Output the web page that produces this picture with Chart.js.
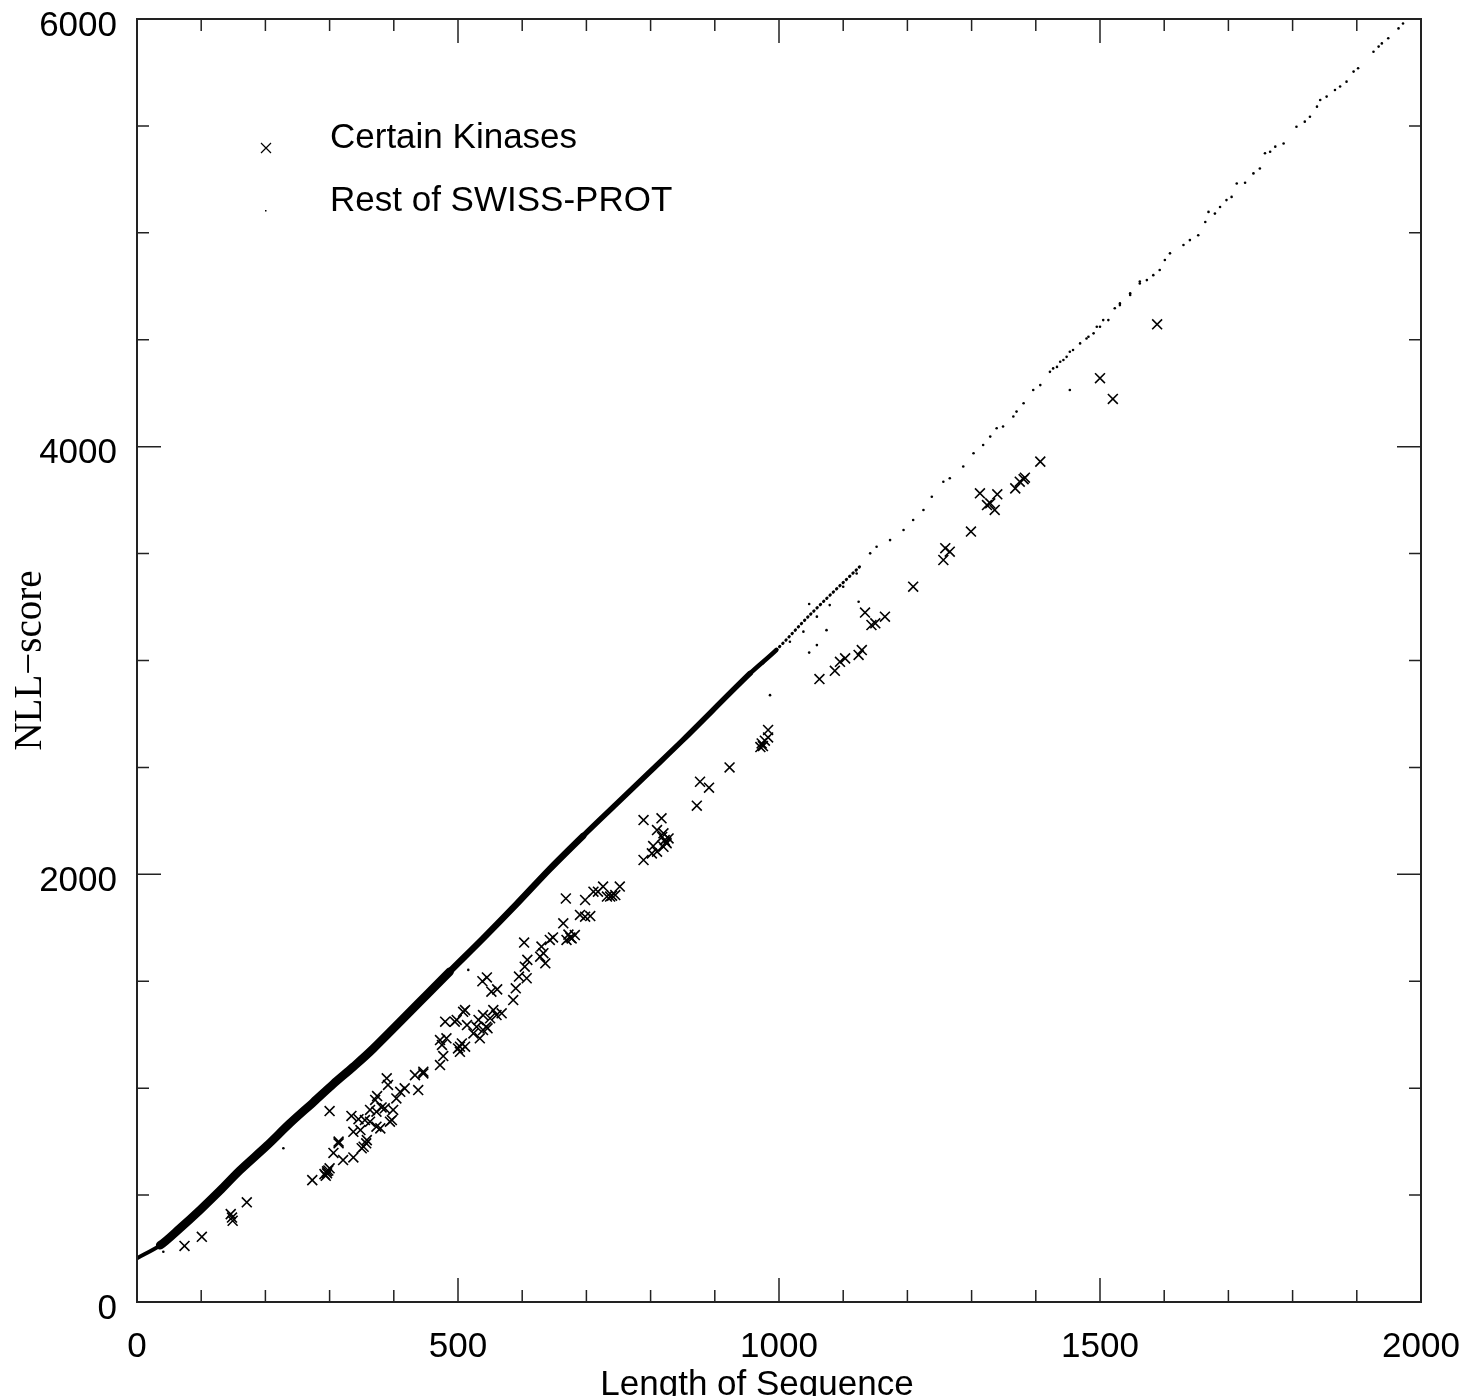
<!DOCTYPE html>
<html>
<head>
<meta charset="utf-8">
<title>NLL-score vs Length of Sequence</title>
<script src="https://cdn.jsdelivr.net/npm/chart.js@4.4.0/dist/chart.umd.min.js"></script>
<style>
  html, body { margin: 0; padding: 0; background: #fff; }
  #wrap { width: 1465px; height: 1396px; }
</style>
</head>
<body>
<div id="wrap"><canvas id="chart" width="1465" height="1396"></canvas></div>
<script>
const seriesNames = ['Certain Kinases', 'Rest of SWISS-PROT'];
const xTitle = 'Length of Sequence';
const yTitle = 'NLL−score';
const xTickLabels = [0, 500, 1000, 1500, 2000];
const yTickLabels = [0, 2000, 4000, 6000];

// [length, score]
const kinases = [
  [74, 262], [101, 305], [146, 411], [149, 380], [148, 395], [171, 466],
  [273, 570], [296, 602], [294, 590], [298, 615], [292, 598], [300, 625], [296, 611], [300, 893],
  [306, 697], [314, 742], [314, 750], [321, 664], [337, 676], [334, 870], [345, 855], [337, 796],
  [348, 804], [353, 726], [350, 719], [357, 742], [358, 757], [363, 843], [363, 898], [355, 851],
  [371, 945], [374, 963], [373, 890], [373, 820], [379, 812], [381, 910], [386, 906], [389, 1046],
  [391, 1015], [394, 843], [397, 851], [399, 898], [404, 952], [410, 983], [417, 999],
  [433, 1061], [438, 991], [446, 1069], [446, 1077],
  [472, 1108], [477, 1150], [475, 1202], [472, 1225], [482, 1233], [480, 1311], [503, 1170],
  [500, 1186], [503, 1194], [506, 1209], [511, 1194], [498, 1319], [495, 1311], [508, 1357],
  [511, 1365], [514, 1295], [524, 1256], [529, 1287], [532, 1319], [534, 1233], [539, 1272],
  [544, 1287], [546, 1280], [539, 1342], [550, 1327], [555, 1365], [560, 1342], [568, 1350],
  [545, 1518], [538, 1500], [552, 1451], [561, 1462], [586, 1412], [590, 1467], [603, 1681],
  [595, 1522], [607, 1514], [604, 1568], [608, 1600], [628, 1615], [633, 1631], [636, 1584],
  [630, 1662], [643, 1693], [648, 1705], [664, 1771], [669, 1693], [672, 1718], [675, 1705],
  [677, 1700], [682, 1716], [690, 1810], [698, 1802], [706, 1805], [668, 1887], [698, 1880],
  [711, 1919], [718, 1919], [726, 1943], [732, 1896], [737, 1896], [740, 1900], [745, 1903],
  [752, 1943],
  [789, 2254], [817, 2262], [789, 2067], [802, 2098], [804, 2132], [810, 2207], [820, 2192],
  [822, 2160], [825, 2145], [820, 2129], [810, 2106], [828, 2168], [818, 2175], [824, 2150],
  [872, 2321], [877, 2433], [891, 2405], [923, 2500],
  [971, 2595], [973, 2612], [975, 2600], [978, 2625], [983, 2640], [983, 2675],
  [1063, 2913], [1087, 2952], [1095, 2994], [1103, 3010], [1124, 3026], [1129, 3049],
  [1134, 3224], [1144, 3166], [1150, 3174], [1165, 3205], [1209, 3345], [1256, 3470],
  [1259, 3525], [1266, 3509], [1299, 3603], [1313, 3782], [1324, 3727], [1329, 3735],
  [1336, 3704], [1340, 3777], [1368, 3805], [1375, 3836], [1381, 3848], [1383, 3855],
  [1407, 3930], [1500, 4320], [1520, 4223], [1589, 4572]
];

// centre of the dense part of the SWISS-PROT band
const bandCentre = [
  [0, 205], [36, 265], [67, 345], [98, 430], [129, 520], [160, 615], [202, 730],
  [238, 835], [275, 935], [306, 1020], [337, 1100], [368, 1185], [487, 1545],
  [539, 1700], [591, 1860], [643, 2025], [695, 2180], [747, 2330], [799, 2480],
  [851, 2630], [955, 2940], [996, 3050], [1048, 3213], [1126, 3440]
];

// single SWISS-PROT points where the band thins out, plus strays
const restPoints = [
  [975, 2987], [1017, 3088], [1038, 3135], [1059, 3205], [1079, 3259], [1100, 3345],
  [1121, 3407], [1142, 3501], [1152, 3532], [1173, 3563], [1194, 3610], [1209, 3657],
  [1225, 3704], [1238, 3766], [1256, 3836], [1266, 3852], [1287, 3907], [1303, 3969],
  [1318, 4008], [1329, 4047], [1339, 4086], [1349, 4094], [1365, 4141], [1370, 4164],
  [1381, 4203], [1396, 4265], [1407, 4288], [1422, 4350], [1433, 4373], [1443, 4405],
  [1453, 4444], [1469, 4483], [1479, 4506], [1495, 4561], [1505, 4592], [1523, 4647],
  [1531, 4670], [1547, 4717], [1562, 4772],
  [1427, 4366], [1438, 4397], [1448, 4420], [1458, 4452], [1482, 4514], [1490, 4530],
  [1500, 4561], [1513, 4592], [1531, 4662], [1547, 4709], [1562, 4763], [1573, 4779],
  [1583, 4802], [1593, 4826], [1601, 4873], [1609, 4904], [1630, 4943], [1640, 4966],
  [1653, 4989], [1664, 5051], [1669, 5098], [1679, 5090], [1687, 5121], [1697, 5153],
  [1705, 5168], [1713, 5231], [1726, 5234], [1739, 5278], [1749, 5301], [1757, 5372],
  [1765, 5379], [1773, 5403], [1786, 5418], [1806, 5496], [1819, 5520], [1827, 5543],
  [1838, 5590], [1843, 5621], [1853, 5637], [1866, 5668], [1874, 5684], [1884, 5707],
  [1895, 5754], [1902, 5770], [1926, 5847], [1934, 5871], [1939, 5886], [1949, 5910],
  [1965, 5956], [1972, 5979],
  [41, 235], [228, 719], [516, 1553], [986, 2838], [1047, 3037], [1059, 3072],
  [1074, 3142], [1047, 3264], [1124, 3275], [1453, 4265]
];

const toXY = (pairs) => pairs.map(([x, y]) => ({ x, y }));

function bandWidth(ctx) {
  const len = ctx.p0.parsed.x;
  if (len < 30) return 4;
  if (len < 400) return 8.5;
  if (len < 650) return 6.5;
  if (len < 900) return 5.5;
  if (len < 990) return 4.5;
  return 3;
}

// past ~1000 the band breaks up into a stipple
function bandDash(ctx) {
  return ctx.p0.parsed.x >= 990 ? [0.5, 4] : undefined;
}

const frameTicks = {
  id: 'frameTicks',
  afterDatasetsDraw(chart) {
    const { ctx, chartArea: area, scales: { x, y } } = chart;
    ctx.save();
    ctx.strokeStyle = '#222';
    ctx.lineWidth = 1.5;
    ctx.beginPath();
    x.ticks.forEach((tick) => {
      const px = x.getPixelForValue(tick.value);
      const len = tick.value % 500 === 0 ? 24 : 12;
      ctx.moveTo(px, area.bottom);
      ctx.lineTo(px, area.bottom - len);
      ctx.moveTo(px, area.top);
      ctx.lineTo(px, area.top + len);
    });
    y.ticks.forEach((tick) => {
      const py = y.getPixelForValue(tick.value);
      const len = tick.value % 2000 === 0 ? 24 : 12;
      ctx.moveTo(area.left, py);
      ctx.lineTo(area.left + len, py);
      ctx.moveTo(area.right, py);
      ctx.lineTo(area.right - len, py);
    });
    ctx.stroke();
    ctx.lineWidth = 2;
    ctx.strokeRect(area.left, area.top, area.right - area.left, area.bottom - area.top);
    ctx.restore();
  }
};

const legendBox = {
  id: 'legendBox',
  afterDraw(chart) {
    const { ctx } = chart;
    ctx.save();
    ctx.fillStyle = '#000';
    ctx.strokeStyle = '#000';
    ctx.font = '35px "Liberation Sans", Arial, sans-serif';
    ctx.textBaseline = 'alphabetic';
    ctx.fillText(seriesNames[0], 330, 148);
    ctx.fillText(seriesNames[1], 330, 211);
    // x title sits a little left of the axis centre in the original
    ctx.textAlign = 'center';
    ctx.fillText(xTitle, 757, 1395);
    ctx.lineWidth = 1.2;
    ctx.beginPath();
    ctx.moveTo(261, 143); ctx.lineTo(271, 153);
    ctx.moveTo(271, 143); ctx.lineTo(261, 153);
    ctx.stroke();
    ctx.fillRect(265, 210, 1.5, 1.5);
    ctx.restore();
  }
};

new Chart(document.getElementById('chart'), {
  type: 'scatter',
  data: {
    datasets: [
      {
        label: seriesNames[1],
        data: toXY(bandCentre),
        showLine: true,
        tension: 0.3,
        pointRadius: 0,
        borderColor: '#000',
        borderWidth: 6,
        borderCapStyle: 'round',
        borderJoinStyle: 'round',
        segment: { borderWidth: bandWidth, borderDash: bandDash }
      },
      {
        label: seriesNames[1],
        data: toXY(restPoints),
        pointRadius: 1.3,
        pointBackgroundColor: '#000',
        pointBorderWidth: 0
      },
      {
        label: seriesNames[0],
        data: toXY(kinases),
        pointStyle: 'crossRot',
        pointRadius: 7,
        pointBorderColor: '#000',
        pointBorderWidth: 1.6
      }
    ]
  },
  options: {
    responsive: false,
    animation: false,
    layout: { padding: { top: 19, right: 44, left: 0, bottom: 0 } },
    plugins: {
      legend: { display: false },
      tooltip: { enabled: false }
    },
    scales: {
      x: {
        type: 'linear',
        min: 0,
        max: 2000,
        grid: { display: false },
        border: { display: false },
        ticks: {
          stepSize: 100,
          autoSkip: false,
          maxRotation: 0,
          padding: 16,
          color: '#000',
          font: { family: '"Liberation Sans", Arial, sans-serif', size: 35 },
          callback: (v) => (xTickLabels.includes(v) ? String(v) : '')
        },
        title: { display: false },
        afterFit: (scale) => {
          scale.height = 94;
          scale.paddingLeft = 0;
          scale.paddingRight = 0;
        }
      },
      y: {
        type: 'linear',
        min: 0,
        max: 6000,
        grid: { display: false },
        border: { display: false },
        ticks: {
          stepSize: 500,
          autoSkip: false,
          padding: 12,
          labelOffset: 7,
          color: '#000',
          font: { family: '"Liberation Sans", Arial, sans-serif', size: 35 },
          callback: (v) => (yTickLabels.includes(v) ? String(v) : '')
        },
        title: {
          display: true,
          text: yTitle,
          color: '#000',
          font: { family: '"Liberation Serif", "Times New Roman", serif', size: 39 },
          padding: { top: 7, bottom: 0 }
        },
        afterFit: (scale) => {
          scale.width = 137;
          scale.paddingTop = 0;
          scale.paddingBottom = 0;
        }
      }
    }
  },
  plugins: [frameTicks, legendBox]
});
</script>
</body>
</html>
